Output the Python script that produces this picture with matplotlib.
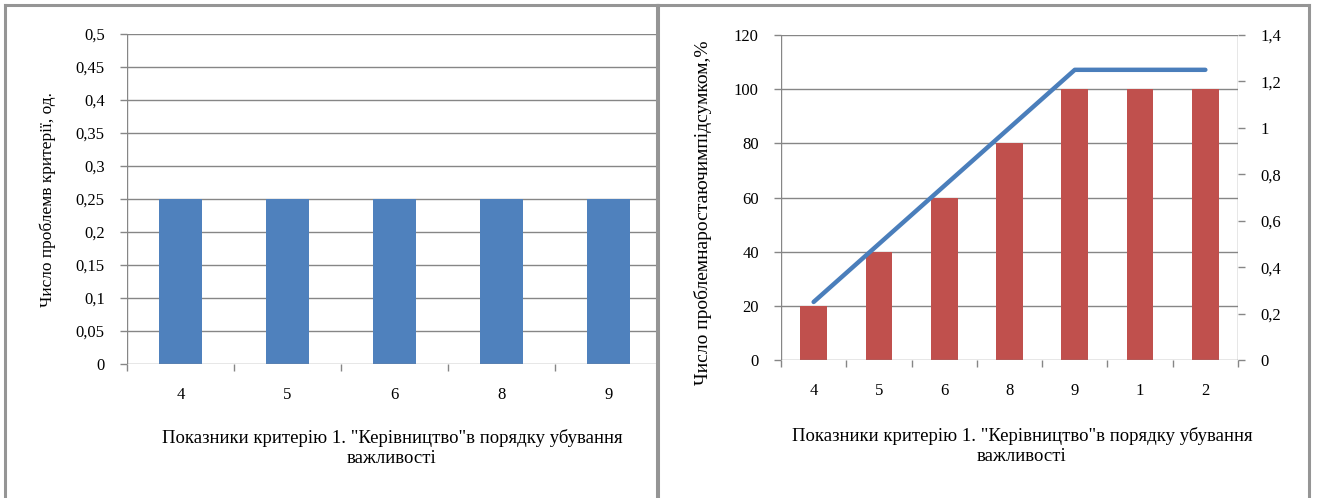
import matplotlib
matplotlib.use("Agg")
import matplotlib.pyplot as plt
from matplotlib.lines import Line2D
import numpy as np

# Data
left_categories = ["4", "5", "6", "8", "9"]
left_values = [0.25, 0.25, 0.25, 0.25, 0.25]

right_categories = ["4", "5", "6", "8", "9", "1", "2"]
cumulative_pct = [20, 40, 60, 80, 100, 100, 100]
cumulative_count = [0.25, 0.5, 0.75, 1.0, 1.25, 1.25, 1.25]

left_yticks = [0, 0.05, 0.1, 0.15, 0.2, 0.25, 0.3, 0.35, 0.4, 0.45, 0.5]
right_yticks = [0, 20, 40, 60, 80, 100, 120]
right_y2ticks = [0, 0.2, 0.4, 0.6, 0.8, 1.0, 1.2, 1.4]

xlabel_text = 'Показники критерію 1. "Керівництво"в порядку убування\nважливості'
left_ylabel = "Число проблемв критерії, од."
right_ylabel = "Число проблемнаростаючимпідсумком,%"

W, H = 1318, 498
DPI = 100
FONT = "Liberation Serif"
GRID = "#868686"
BLUE = "#4F81BD"
RED = "#C0504D"
LINE = "#4A7EBB"
TICK_FS = 12
LABEL_FS = 13.5

fig = plt.figure(figsize=(W / DPI, H / DPI), dpi=DPI)
fig.patch.set_facecolor("white")


def box(x0, y_top, x1, y_bot):
    return [x0 / W, 1 - y_bot / H, (x1 - x0) / W, (y_bot - y_top) / H]


def fmt(v):
    return ("%g" % v).replace(".", ",")


def style_axes(ax):
    for s in ax.spines.values():
        s.set_visible(False)
    ax.tick_params(colors=GRID, labelcolor="black", length=5, width=1)


# ---------- left chart ----------
axL = fig.add_axes(box(127, 34, 657, 364))
style_axes(axL)
cat_w = 107.0
n = len(left_categories)
axL.set_xlim(-0.5, -0.5 + (657 - 127) / cat_w)
axL.set_ylim(0, 0.5)
axL.bar(np.arange(n), left_values, width=0.4, color=BLUE, zorder=3)
axL.set_yticks(left_yticks)
axL.set_yticklabels([fmt(v) for v in left_yticks], fontfamily=FONT, fontsize=TICK_FS)
for v in left_yticks[1:]:
    axL.axhline(v, color=GRID, lw=1, zorder=1)
axL.axhline(0, color=GRID, lw=1, zorder=4)
axL.axvline(-0.5, color=GRID, lw=1, zorder=4)
axL.set_xticks(np.arange(n) - 0.5)
axL.set_xticklabels([])
axL.tick_params(axis="y", pad=11)
for i, c in enumerate(left_categories):
    axL.text(i, -0.047, c, ha="center", va="center", fontfamily=FONT, fontsize=TICK_FS)

# ---------- right chart ----------
x0R, x1R = 781, 1238
axR = fig.add_axes(box(x0R, 35, x1R, 360))
style_axes(axR)
m = len(right_categories)
axR.set_xlim(-0.5, m - 0.5)
axR.set_ylim(0, 120)
axR.bar(np.arange(m), cumulative_pct, width=0.41, color=RED, zorder=3)
axR.set_yticks(right_yticks)
axR.set_yticklabels([fmt(v) for v in right_yticks], fontfamily=FONT, fontsize=TICK_FS)
for v in right_yticks[1:]:
    axR.axhline(v, color=GRID, lw=1, zorder=1)
axR.axhline(0, color=GRID, lw=1, zorder=4)
axR.axvline(-0.5, color=GRID, lw=1, zorder=4)
axR.axvline(m - 0.5, color=GRID, lw=1, zorder=4)
axR.set_xticks(np.arange(m + 1) - 0.5)
axR.set_xticklabels([])
axR.tick_params(axis="y", pad=11)
for i, c in enumerate(right_categories):
    axR.text(i, -11.4, c, ha="center", va="center", fontfamily=FONT, fontsize=TICK_FS)

axR2 = axR.twinx()
style_axes(axR2)
axR2.set_ylim(0, 1.4)
axR2.set_yticks(right_y2ticks)
axR2.set_yticklabels([fmt(v) for v in right_y2ticks], fontfamily=FONT, fontsize=TICK_FS)
axR2.tick_params(axis="y", pad=11)
axR2.plot(np.arange(m), cumulative_count, color=LINE, lw=3.2,
          solid_capstyle="round", solid_joinstyle="round", zorder=5)

# axis titles
fig.text(392 / W, 1 - 448 / H, xlabel_text, ha="center", va="center",
         fontfamily=FONT, fontsize=LABEL_FS, linespacing=1.2, multialignment="center")
fig.text(1022 / W, 1 - 446 / H, xlabel_text, ha="center", va="center",
         fontfamily=FONT, fontsize=LABEL_FS, linespacing=1.2, multialignment="center")
fig.text(48 / W, 1 - 200 / H, left_ylabel, ha="center", va="center", rotation=90,
         fontfamily=FONT, fontsize=12.5)
fig.text(703 / W, 1 - 213 / H, right_ylabel, ha="center", va="center", rotation=90,
         fontfamily=FONT, fontsize=14)

# chart frames
frame_kw = dict(color="#959595", lw=2.2, transform=fig.transFigure, figure=fig)
for xa, xb in [(5, 657), (658, 1309)]:
    fig.lines.append(Line2D([xa / W, xa / W], [0, 1 - 5 / H], **frame_kw))
    fig.lines.append(Line2D([xb / W, xb / W], [0, 1 - 5 / H], **frame_kw))
    fig.lines.append(Line2D([xa / W, xb / W], [1 - 5 / H, 1 - 5 / H], **frame_kw))

fig.savefig("out.png", dpi=DPI)
